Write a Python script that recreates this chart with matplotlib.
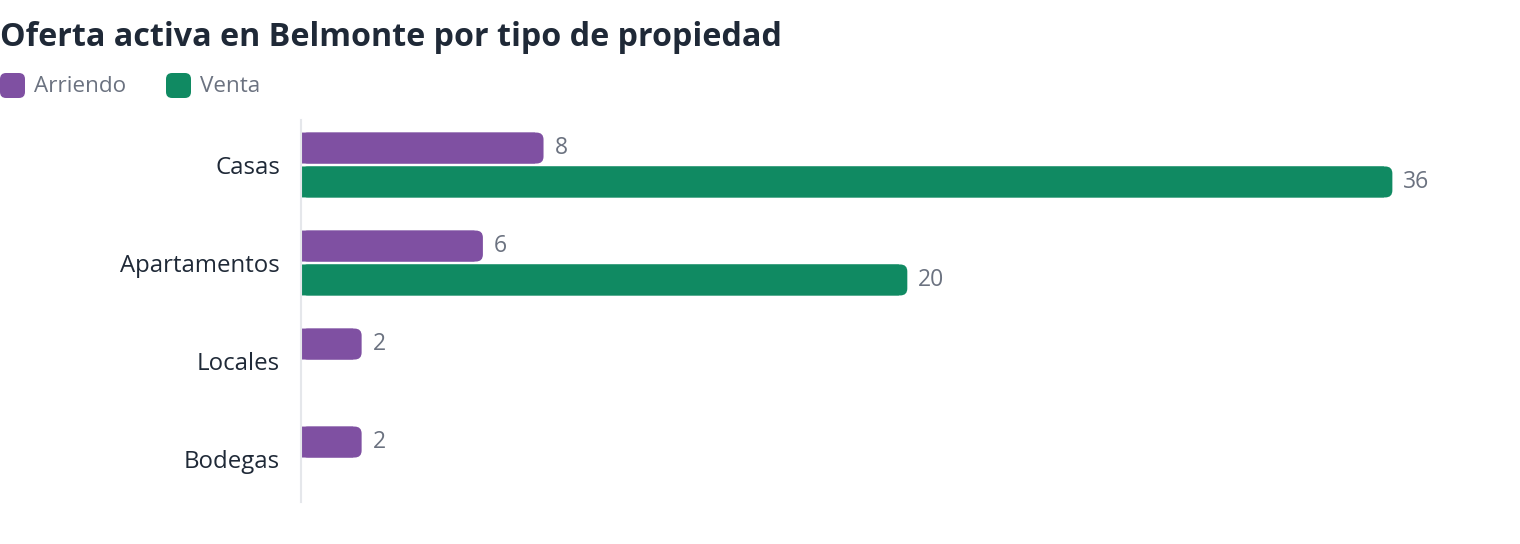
import matplotlib
matplotlib.use("Agg")
import matplotlib.pyplot as plt
from matplotlib.patches import FancyBboxPatch, Rectangle
import numpy as np

plt.rcParams['font.family'] = ['Open Sans', 'DejaVu Sans']

# data
categories = ['Casas', 'Apartamentos', 'Locales', 'Bodegas']
arriendo = [8, 6, 2, 2]
venta = [36, 20, 0, 0]
series_names = ['Arriendo', 'Venta']
colors = ['#7f50a2', '#108a62']

TITLE_C = '#1f2937'
MUTED = '#6b7280'

W, H = 1520, 544
fig = plt.figure(figsize=(W / 100, H / 100), dpi=100)
# axes placed in pixel terms
ax = fig.add_axes([301 / W, 1 - 502 / H, (1453 - 301) / W, (502 - 120) / H])

y = np.arange(len(categories))
off = 0.173
bh = 0.316
b1 = ax.barh(y - off, arriendo, height=bh, color=colors[0])
b2 = ax.barh(y + off, venta, height=bh, color=colors[1])

ax.set_xlim(0, 38)
ax.set_ylim(3 + 43 / 98, -45 / 98)

# round the right end of every bar
fig.canvas.draw()
bb = ax.get_window_extent()
xu = 38 / bb.width
yu = (3 + 43 / 98 + 45 / 98) / bb.height
r_px = 7
for bars in (b1, b2):
    for rect in bars:
        x0, y0 = rect.get_x(), rect.get_y()
        w, h = rect.get_width(), rect.get_height()
        col = rect.get_facecolor()
        rect.set_visible(False)
        if w <= 0:
            continue
        ax.add_patch(FancyBboxPatch((x0, y0), w, h,
                                    boxstyle=f"round,pad=0,rounding_size={r_px * xu}",
                                    mutation_aspect=yu / xu, fc=col, ec='none',
                                    lw=0))
        ax.add_patch(Rectangle((x0, y0), max(w - r_px * xu * 1.2, 0), h, fc=col,
                               ec='none', lw=0, snap=False))

# value labels
for vals, dy in ((arriendo, -off), (venta, off)):
    for i, v in enumerate(vals):
        if v > 0:
            ax.text(v + 11 * xu, i + dy, str(v), va='center', ha='left',
                    fontsize=16.5, color=MUTED)

for s in ['top', 'right', 'bottom']:
    ax.spines[s].set_visible(False)
ax.spines['left'].set_color('#e5e7eb')
ax.spines['left'].set_linewidth(1.5)
ax.set_xticks([])
ax.set_yticks(y)
ax.set_yticklabels(categories, fontsize=17.3, color=TITLE_C)
ax.tick_params(axis='y', length=0, pad=15)

# title
fig.text(0.0, 1 - 38 / H, 'Oferta activa en Belmonte por tipo de propiedad',
         fontsize=23.2, fontweight='bold', color=TITLE_C, va='center', ha='left')

# legend, drawn by hand with rounded squares
leg_x = [0, 166]
for name, c, lx in zip(series_names, colors, leg_x):
    fig.add_artist(FancyBboxPatch((lx / W, 1 - 98 / H), 25 / W, 25 / H,
                                  boxstyle="round,pad=0,rounding_size=0.004",
                                  mutation_aspect=W / H,
                                  transform=fig.transFigure, fc=c, ec='none'))
    fig.text((lx + 34) / W, 1 - 86 / H, name, fontsize=16.2, color=MUTED,
             va='center', ha='left')

fig.savefig('out.png', dpi=100)
